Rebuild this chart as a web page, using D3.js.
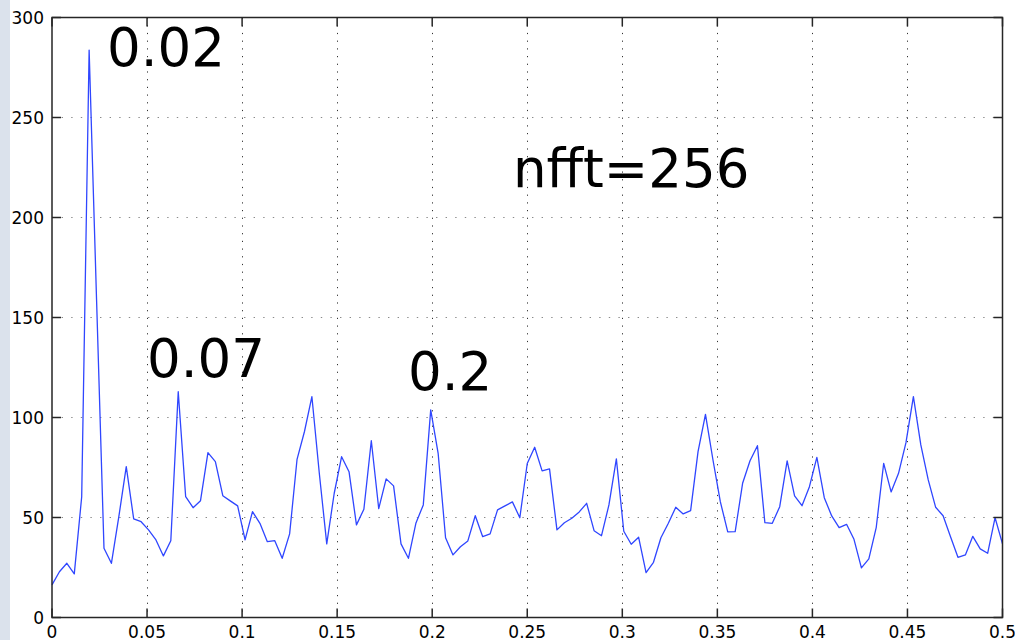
<!DOCTYPE html>
<html>
<head>
<meta charset="utf-8">
<script src="https://cdn.jsdelivr.net/npm/d3@7"></script>
<style>
  html, body { margin: 0; padding: 0; background: #fff; }
  svg { display: block; }
</style>
</head>
<body>
<svg id="chart" width="1015" height="640"></svg>
<script>
// Power spectrum estimate, nfft = 256 (bins 0 .. nfft/2)
const nfft = 256;
const power = [
  16.3, 22.9, 27.1, 21.8, 60.4, 283.7, 159, 34.6, 27.1, 50.4,
  75.4, 49.3, 47.9, 43.8, 38.8, 30.8, 38.4, 112.9, 60.4, 54.9,
  58.4, 82.4, 77.9, 60.9, 58.3, 55.8, 38.8, 52.9, 47.1, 37.9,
  38.4, 29.6, 41.8, 79.1, 93, 110.4, 72, 36.8, 62, 80.4,
  72.9, 46.3, 54.1, 88.4, 54.4, 69.3, 65.8, 36.8, 29.6, 47.1,
  56.3, 103.8, 82.1, 39.9, 31.3, 35.4, 38.3, 50.9, 40.4, 41.8,
  53.8, 55.8, 57.8, 49.9, 77, 85.1, 73.3, 74.3, 43.8, 47.4,
  49.6, 52.8, 57.1, 43.4, 40.9, 56.3, 79.3, 43.1, 36.6, 40.1,
  22.4, 27.6, 39.9, 47.1, 55.1, 51.8, 53.4, 82.9, 101.6, 79,
  57.9, 42.8, 42.9, 67.1, 78.4, 85.9, 47.4, 47.1, 55.4, 78.3,
  60.8, 55.9, 65.4, 80.1, 59.9, 50.8, 44.9, 46.6, 39.1, 24.8,
  29.3, 45.1, 77.1, 62.8, 72.1, 87.4, 110.4, 86.3, 68.8, 55.1,
  50.9, 40.4, 30.1, 31.3, 40.6, 34.3, 32.1, 49.9, 36.8
];
const freq = power.map((_, i) => i / nfft);

const xTicks = [0, 0.05, 0.1, 0.15, 0.2, 0.25, 0.3, 0.35, 0.4, 0.45, 0.5];
const xTickLabels = ["0", "0.05", "0.1", "0.15", "0.2", "0.25", "0.3", "0.35", "0.4", "0.45", "0.5"];
const yTicks = [0, 50, 100, 150, 200, 250, 300];
const yTickLabels = ["0", "50", "100", "150", "200", "250", "300"];

// Text annotations: label, frequency and power of the text anchor
const noteLabels = ["0.02", "0.07", "0.2", "nfft=256"];
const noteFreq = [0.0289, 0.05, 0.1873, 0.2425];
const notePower = [276, 120.25, 113.75, 215.25];

const svg = d3.select("#chart");
const W = 1015, H = 640;
const plotL = 52, plotR = 1002.5, plotT = 17.5, plotB = 617.5;

const x = d3.scaleLinear().domain([0, 0.5]).range([plotL, plotR]);
const y = d3.scaleLinear().domain([0, 300]).range([plotB, plotT]);

// window background strip at the left edge
svg.append("rect").attr("x", 0).attr("y", 0).attr("width", 10).attr("height", H)
  .attr("fill", "#dbe2ec");

// axes background
svg.append("rect").attr("x", plotL).attr("y", plotT)
  .attr("width", plotR - plotL).attr("height", plotB - plotT).attr("fill", "#fff");

// dotted grid
const grid = svg.append("g");
grid.selectAll("line.gy").data(yTicks.slice(1, -1)).join("line")
  .attr("x1", plotL).attr("x2", plotR)
  .attr("y1", d => y(d)).attr("y2", d => y(d))
  .attr("stroke", "#8a8a8a").attr("stroke-width", 1.2)
  .attr("stroke-dasharray", "1.4,8.2");
grid.selectAll("line.gx").data(xTicks.slice(1, -1)).join("line")
  .attr("x1", d => Math.round(x(d)) + 0.5).attr("x2", d => Math.round(x(d)) + 0.5)
  .attr("y1", plotT).attr("y2", plotB)
  .attr("stroke", "#333").attr("stroke-width", 1)
  .attr("stroke-dasharray", "1.2,6.5");

// spectrum line
const line = d3.line().x((d, i) => x(freq[i])).y(d => y(d));
svg.append("path").datum(power)
  .attr("d", line)
  .attr("fill", "none")
  .attr("stroke", "#2f46ff")
  .attr("stroke-width", 1.3)
  .attr("stroke-linejoin", "round");

// axes box with inward ticks on all sides
const frame = svg.append("g").attr("stroke", "#262626").attr("stroke-width", 1.5);
frame.append("rect").attr("x", plotL).attr("y", plotT)
  .attr("width", plotR - plotL).attr("height", plotB - plotT).attr("fill", "none");
const tl = 9;
xTicks.forEach(t => {
  const px = x(t);
  frame.append("line").attr("x1", px).attr("x2", px).attr("y1", plotB).attr("y2", plotB - tl);
  frame.append("line").attr("x1", px).attr("x2", px).attr("y1", plotT).attr("y2", plotT + tl);
});
yTicks.forEach(t => {
  const py = y(t);
  frame.append("line").attr("x1", plotL).attr("x2", plotL + tl).attr("y1", py).attr("y2", py);
  frame.append("line").attr("x1", plotR).attr("x2", plotR - tl).attr("y1", py).attr("y2", py);
});

// tick labels
const font = "'DejaVu Sans', sans-serif";
svg.append("g").selectAll("text").data(yTicks).join("text")
  .attr("x", plotL - 8).attr("y", d => y(d) + 1.5)
  .attr("text-anchor", "end").attr("dominant-baseline", "middle")
  .attr("font-family", font).attr("font-size", 17).attr("fill", "#000")
  .text((d, i) => yTickLabels[i]);
svg.append("g").selectAll("text").data(xTicks).join("text")
  .attr("x", d => x(d)).attr("y", plotB + 20)
  .attr("text-anchor", "middle")
  .attr("font-family", font).attr("font-size", 17).attr("fill", "#000")
  .text((d, i) => xTickLabels[i]);

// annotations
svg.append("g").selectAll("text").data(noteLabels).join("text")
  .attr("x", (d, i) => x(noteFreq[i]))
  .attr("y", (d, i) => y(notePower[i]))
  .attr("font-family", font).attr("font-size", 53).attr("fill", "#000")
  .text(d => d);
</script>
</body>
</html>
